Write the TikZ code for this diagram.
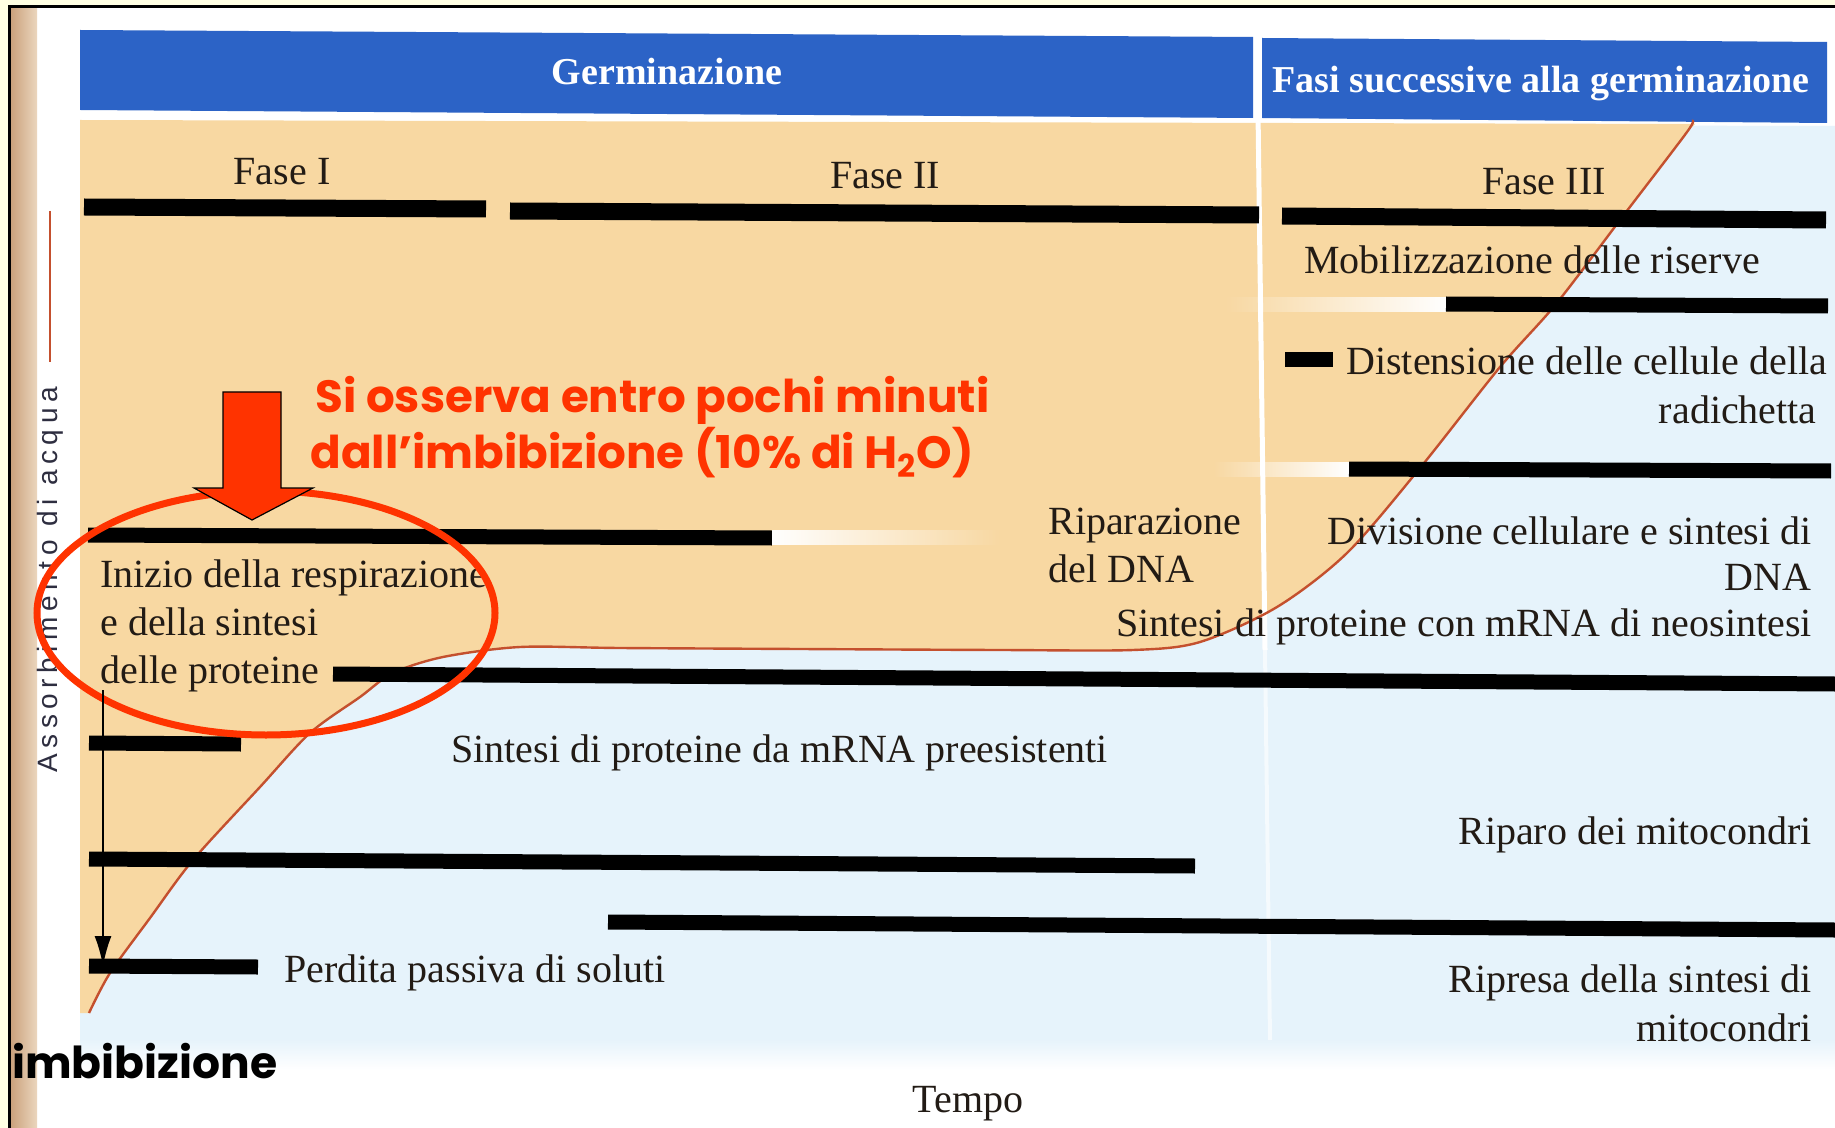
\documentclass[tikz,border=0pt]{standalone}
\usepackage{fontspec}
\setmainfont{Liberation Serif}
\newfontfamily\gothic{Poppins}
\newfontfamily\axisfont{Liberation Sans}[LetterSpace=20]
\usetikzlibrary{arrows.meta,fadings}
\definecolor{bgyellow}{HTML}{FFFFE3}
\definecolor{headblue}{HTML}{2C63C6}
\definecolor{tanc}{HTML}{F8D8A2}
\definecolor{lightblue}{HTML}{E6F3FB}
\definecolor{curvec}{HTML}{C4502E}
\definecolor{hot}{HTML}{FF3300}
\definecolor{inkc}{HTML}{221B15}
\definecolor{axisgray}{HTML}{2E2E40}
\definecolor{spinedark}{HTML}{C9A07A}
\definecolor{spinelight}{HTML}{EBD6BE}
\tikzset{
  bar/.style={line width=7.5pt, black},
  topbar/.style={line width=8.5pt, black},
  lbl/.style={font=\fontsize{20}{24}\selectfont, inner sep=0pt, text=inkc},
  head/.style={font=\fontsize{19}{23}\selectfont\bfseries, inner sep=0pt, text=white},
  redtxt/.style={font=\gothic\fontsize{22.6}{28}\selectfont\bfseries, inner sep=0pt, text=hot},
}
\begin{document}
\begin{tikzpicture}[x=0.5pt,y=-0.5pt]
\useasboundingbox (0,0) rectangle (1835,1128);
% page
\fill[bgyellow] (0,0) rectangle (1835,1128);
\fill[white] (9,7) rectangle (1835,1128);
\shade[left color=spinedark, right color=spinelight] (10,8) rectangle (37,1128);
\draw[line width=1.5pt] (1835,7) -- (9,7) -- (9,1128);
% light blue field
\fill[lightblue] (80,122) -- (1835,126) -- (1835,1040) -- (80,1040) -- cycle;
\shade[top color=lightblue, bottom color=white] (80,1039) rectangle (1835,1070);
% tan field above the curve
\fill[tanc] (80,120) -- (1695,124) -- plot[smooth,tension=0.5] coordinates {
 (1687,132) (1623,216) (1556,304) (1500,367) (1420,468) (1347,553) (1277,607)
 (1200,642) (1133,650) (1000,650) (800,649) (620,648) (520,647) (443,657)
 (393,673) (360,697) (310,733) (260,787) (193,860) (150,918) (110,973) (89,1013)}
 -- (80,1013) -- cycle;
% header
\fill[headblue] (80,30) -- (1253,37) -- (1253,118) -- (80,110) -- cycle;
\fill[headblue] (1262,38) -- (1827,42) -- (1827,123) -- (1262,118) -- cycle;
% white separator
\draw[white, line width=2.5pt] (1258,112) -- (1265,650);
\draw[white, line width=2pt, opacity=0.6] (1265,650) -- (1270,1040);
% water uptake curve
\draw[curvec, line width=1.2pt] plot[smooth,tension=0.5] coordinates {
 (1692,121) (1687,132) (1623,216) (1556,304) (1500,367) (1420,468) (1347,553) (1277,607)
 (1200,642) (1133,650) (1000,650) (800,649) (620,648) (520,647) (443,657)
 (393,673) (360,697) (310,733) (260,787) (193,860) (150,918) (110,973) (89,1013)};
% axis label
\draw[curvec, line width=1pt] (50,211) -- (50,362);
\node[rotate=90, font=\axisfont\fontsize{14}{16}\selectfont, text=axisgray, inner sep=0pt] (ax) at (50,580) {Assorbimento di acqua};
% bars
\draw[topbar] (84,207) -- (486,209);
\draw[topbar] (510,211) -- (1259,215);
\draw[topbar] (1282,216) -- (1826,220);
\fill[white, path fading=west] (1225,297) rectangle (1446,312);
\draw[bar] (1446,304) -- (1828,306);
\draw[bar] (1285,360) -- (1333,360);
\fill[white, path fading=west] (1213,462) rectangle (1349,477);
\draw[bar] (1349,469) -- (1831,471);
\draw[bar] (88,535) -- (772,538);
\fill[white, path fading=east] (772,530) rectangle (1000,545);
\draw[bar] (333,674) -- (1835,684);
\draw[bar] (89,743) -- (241,744);
\draw[bar] (89,859) -- (1195,866);
\draw[bar] (608,922) -- (1835,930);
\draw[bar] (89,966) -- (258,967);
% texts
\node[head, anchor=base] (hG) at (667,85) {Germinazione};
\node[head, anchor=base] (hF) at (1541,93) {Fasi successive alla germinazione};
\node[lbl, anchor=base] (f1) at (282,185) {Fase I};
\node[lbl, anchor=base] (f2) at (885,189) {Fase II};
\node[lbl, anchor=base] (f3) at (1544,195) {Fase III};
\node[lbl, anchor=base] (mob) at (1532,274) {Mobilizzazione delle riserve};
\node[lbl, anchor=base west] (dist) at (1346,374) {Distensione delle cellule della};
\node[lbl, anchor=base east] (rad) at (1817,423) {radichetta};
\node[lbl, anchor=base west] (rip1) at (1048,534) {Riparazione};
\node[lbl, anchor=base west] (rip2) at (1048,582) {del DNA};
\node[lbl, anchor=base east] (div1) at (1812,544) {Divisione cellulare e sintesi di};
\node[lbl, anchor=base east] (div2) at (1812,590) {DNA};
\node[lbl, anchor=base east] (neo) at (1812,636) {Sintesi di proteine con mRNA di neosintesi};
\node[lbl, anchor=base west] (ini1) at (100,587) {Inizio della respirazione};
\node[lbl, anchor=base west] (ini2) at (100,635) {e della sintesi};
\node[lbl, anchor=base west] (ini3) at (100,683) {delle proteine};
\node[lbl, anchor=base west] (pre) at (451,762) {Sintesi di proteine da mRNA preesistenti};
\node[lbl, anchor=base east] (mito) at (1812,844) {Riparo dei mitocondri};
\node[lbl, anchor=base west] (perd) at (284,982) {Perdita passiva di soluti};
\node[lbl, anchor=base east] (ripr1) at (1812,992) {Ripresa della sintesi di};
\node[lbl, anchor=base east] (ripr2) at (1812,1041) {mitocondri};
\node[lbl, anchor=base] (tempo) at (968,1112) {Tempo};
% annotation
\node[redtxt, anchor=base west] (r1) at (315,412) {Si osserva entro pochi minuti};
\node[redtxt, anchor=base west] (r2) at (310,468) {dall’imbibizione (10\% di H\textsubscript{2}O)};
\node[font=\gothic\fontsize{22}{26}\selectfont\bfseries, anchor=base west, inner sep=0pt, text=black] (imb) at (12,1078) {imbibizione};
\draw[hot, line width=3.5pt] (266,613) ellipse [x radius=229, y radius=122];
\filldraw[fill=hot, draw=black, line width=0.6pt] (223,392) -- (281,392) -- (281,488) -- (313,488) -- (252,520) -- (194,488) -- (223,488) -- cycle;
\coordinate (aTop) at (103,690);
\coordinate (aBot) at (103,966);
\draw[line width=1pt, -{Latex[length=15pt,width=8.5pt]}] (aTop) -- (aBot);
\end{tikzpicture}
\end{document}
